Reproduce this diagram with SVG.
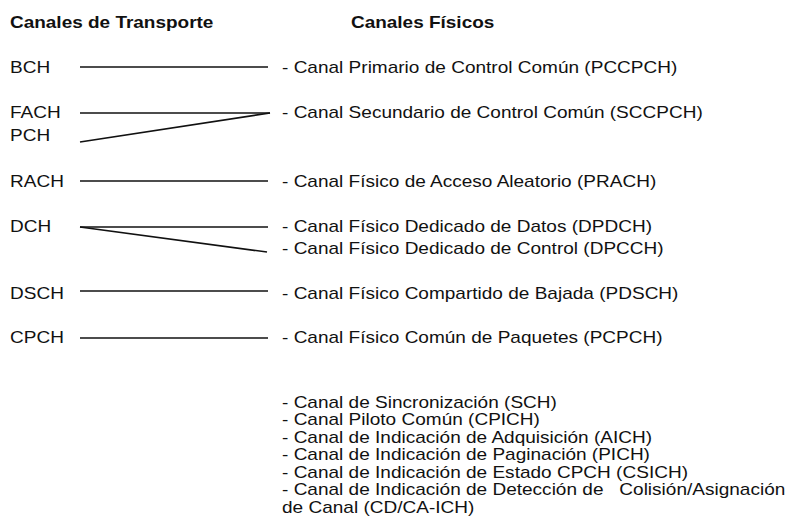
<svg xmlns="http://www.w3.org/2000/svg" width="788" height="530" viewBox="0 0 788 530">
<style>
text{font-family:"Liberation Sans",Arial,sans-serif;font-size:17px;fill:#111}
.h{font-weight:bold;font-size:16.8px}
.c line{stroke:#111;stroke-width:1.7}
</style>
<rect width="788" height="530" fill="#fff"/>
<g id="headers" transform="scale(1.13 1)">
<text class="h" x="8.85" y="28">Canales de Transporte</text>
<text class="h" x="310.6" y="28">Canales Físicos</text>
</g>
<g id="transport" transform="scale(1.12 1)">
<text x="8.93" y="73">BCH</text>
<text x="8.93" y="118">FACH</text>
<text x="8.93" y="141">PCH</text>
<text x="8.93" y="187">RACH</text>
<text x="8.93" y="232">DCH</text>
<text x="8.93" y="299">DSCH</text>
<text x="8.93" y="343">CPCH</text>
</g>
<g id="physical" transform="scale(1.12 1)">
<text x="251.8" y="73">- Canal Primario de Control Común (PCCPCH)</text>
<text x="251.8" y="118">- Canal Secundario de Control Común (SCCPCH)</text>
<text x="251.8" y="187">- Canal Físico de Acceso Aleatorio (PRACH)</text>
<text x="251.8" y="232">- Canal Físico Dedicado de Datos (DPDCH)</text>
<text x="251.8" y="254">- Canal Físico Dedicado de Control (DPCCH)</text>
<text x="251.8" y="299">- Canal Físico Compartido de Bajada (PDSCH)</text>
<text x="251.8" y="343">- Canal Físico Común de Paquetes (PCPCH)</text>
<text x="251.8" y="408">- Canal de Sincronización (SCH)</text>
<text x="251.8" y="425.5">- Canal Piloto Común (CPICH)</text>
<text x="251.8" y="443">- Canal de Indicación de Adquisición (AICH)</text>
<text x="251.8" y="460.5">- Canal de Indicación de Paginación (PICH)</text>
<text x="251.8" y="478">- Canal de Indicación de Estado CPCH (CSICH)</text>
<text x="251.8" y="495.5" xml:space="preserve">- Canal de Indicación de Detección de   Colisión/Asignación</text>
<text x="251.8" y="513">de Canal (CD/CA-ICH)</text>
</g>
<g id="connectors" class="c">
<line x1="80" y1="67" x2="268" y2="67"/>
<line x1="80" y1="113" x2="270" y2="113"/>
<line x1="80" y1="142" x2="270" y2="113"/>
<line x1="80" y1="181" x2="268" y2="181"/>
<line x1="80" y1="227" x2="268" y2="227"/>
<line x1="80" y1="227" x2="267" y2="252"/>
<line x1="80" y1="291" x2="268" y2="291"/>
<line x1="80" y1="338" x2="268" y2="338"/>
</g>
</svg>
